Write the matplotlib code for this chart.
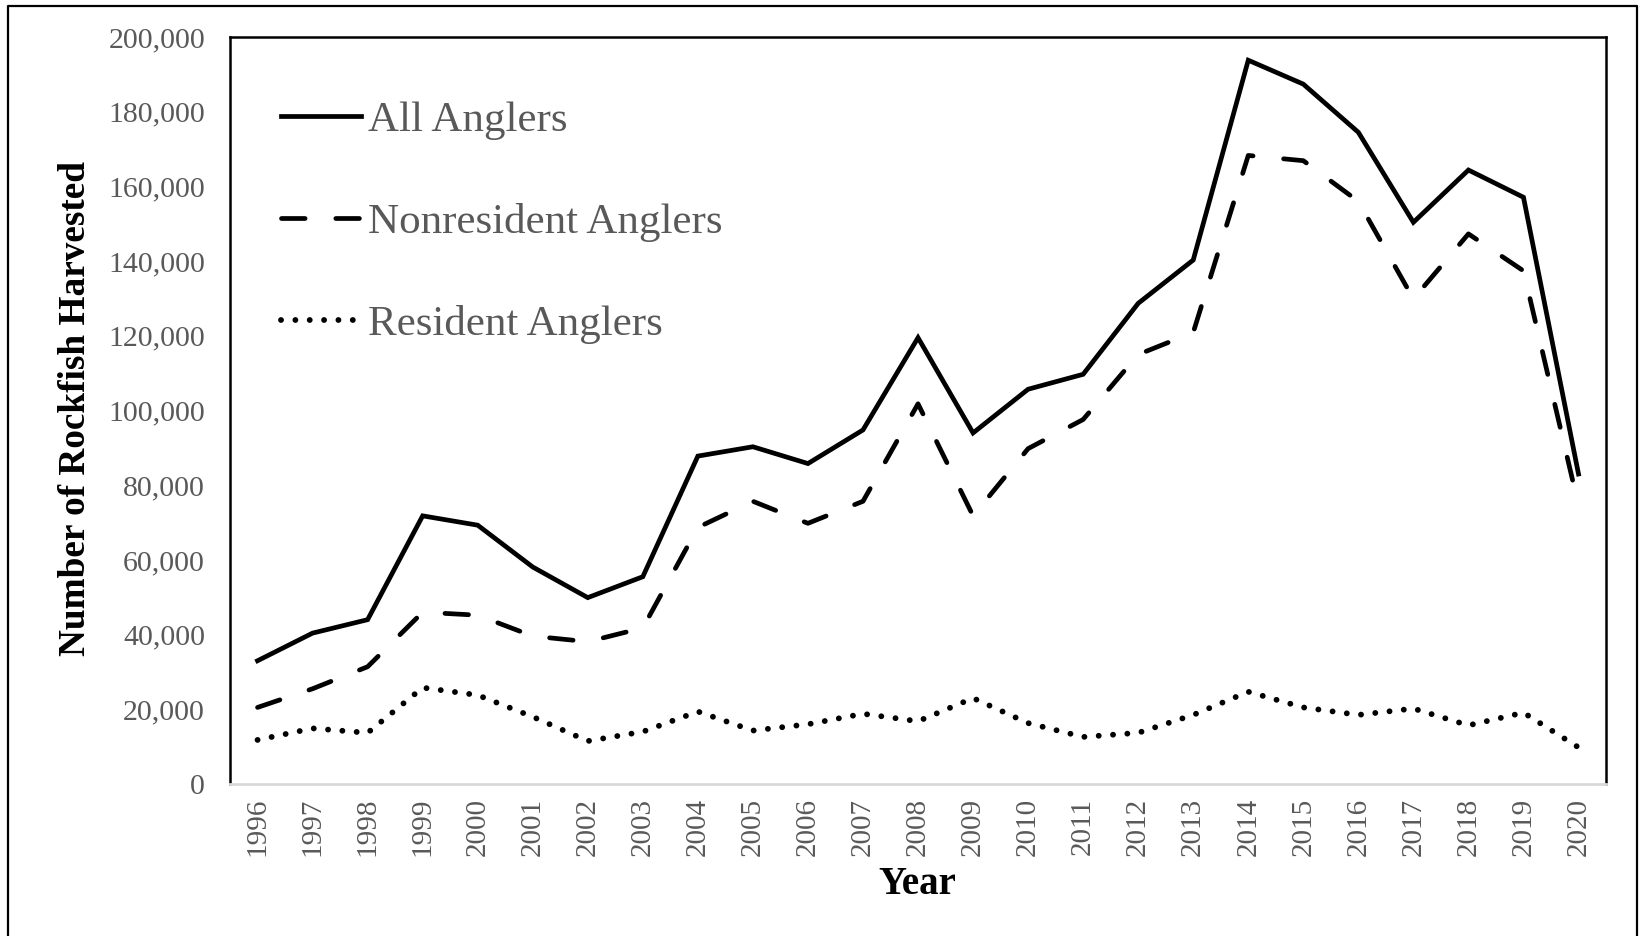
import matplotlib
matplotlib.use("Agg")
import matplotlib.pyplot as plt
from matplotlib.lines import Line2D
from matplotlib.ticker import FuncFormatter

plt.rcParams["font.family"] = ["Liberation Serif", "DejaVu Serif"]

years = list(range(1996, 2021))
all_anglers = [33000, 40400, 44000, 71800, 69300, 58100, 49900, 55500, 87800, 90300,
               85800, 94800, 119500, 94000, 105700, 109700, 128700, 140300, 193800,
               187400, 174500, 150400, 164400, 157100, 83000]
nonresident = [20500, 25500, 31400, 46000, 45200, 39600, 38100, 41800, 68700, 75700,
               69800, 75700, 101800, 71800, 89800, 97600, 115000, 120900, 168300,
               166900, 156000, 129900, 147300, 137400, 74600]
resident = [11800, 14900, 13700, 25800, 23800, 18000, 11500, 14000, 19400, 14300,
            16000, 18800, 16800, 23000, 16300, 12600, 13700, 18500, 24700, 20500,
            18500, 20200, 15700, 19100, 9800]

GRAY = "#595959"

fig = plt.figure(figsize=(16.43, 9.36), dpi=100)
ax = fig.add_axes([0.140, 0.1624, 0.8375, 0.798])

x = list(range(len(years)))
ax.plot(x, all_anglers, color="black", lw=3.4, solid_joinstyle="miter",
        label="All Anglers")
ax.plot(x, nonresident, color="black", lw=3.4, ls=(0, (5, 6.5)),
        dash_capstyle="round", label="Nonresident Anglers")
ax.plot(x, resident, color="black", lw=4.2, ls=(0, (0.01, 2.45)),
        dash_capstyle="round", label="Resident Anglers")

ax.set_xlim(-0.5, len(years) - 0.5)
ax.set_ylim(0, 200000)
ax.set_yticks(range(0, 200001, 20000))
ax.yaxis.set_major_formatter(FuncFormatter(lambda v, p: f"{int(v):,}"))
ax.set_xticks(x)
ax.set_xticklabels([str(y) for y in years], rotation=90)
ax.tick_params(axis="y", length=0, pad=18, labelsize=21.5, labelcolor=GRAY)
ax.tick_params(axis="x", length=0, pad=10, labelsize=21, labelcolor=GRAY)

for side in ("left", "top", "right"):
    ax.spines[side].set_color("black")
    ax.spines[side].set_linewidth(1.8)
ax.spines["bottom"].set_color("#d9d9d9")
ax.spines["bottom"].set_linewidth(2)

fig.text(76 / 1643, 1 - 409 / 936, "Number of Rockfish Harvested", rotation=90,
         ha="center", va="center", fontsize=26.8, fontweight="bold")
fig.text(917 / 1643, 1 - 885 / 936, "Year", ha="center", va="center",
         fontsize=28, fontweight="bold")

leg = ax.legend(loc="upper left", bbox_to_anchor=(0.037, 0.915), frameon=False,
                fontsize=31, handlelength=1.85, handletextpad=0.17,
                labelspacing=1.46, borderpad=0, borderaxespad=0)
for t in leg.get_texts():
    t.set_color(GRAY)

# outer frame around the whole chart (open at the bottom, as in the source)
fx = [8 / 1643, 8 / 1643, 1637 / 1643, 1637 / 1643]
fy = [0, 1 - 6 / 936, 1 - 6 / 936, 0]
fig.add_artist(Line2D(fx, fy, transform=fig.transFigure, color="black", lw=1.6))

fig.savefig("out.png", dpi=100)
